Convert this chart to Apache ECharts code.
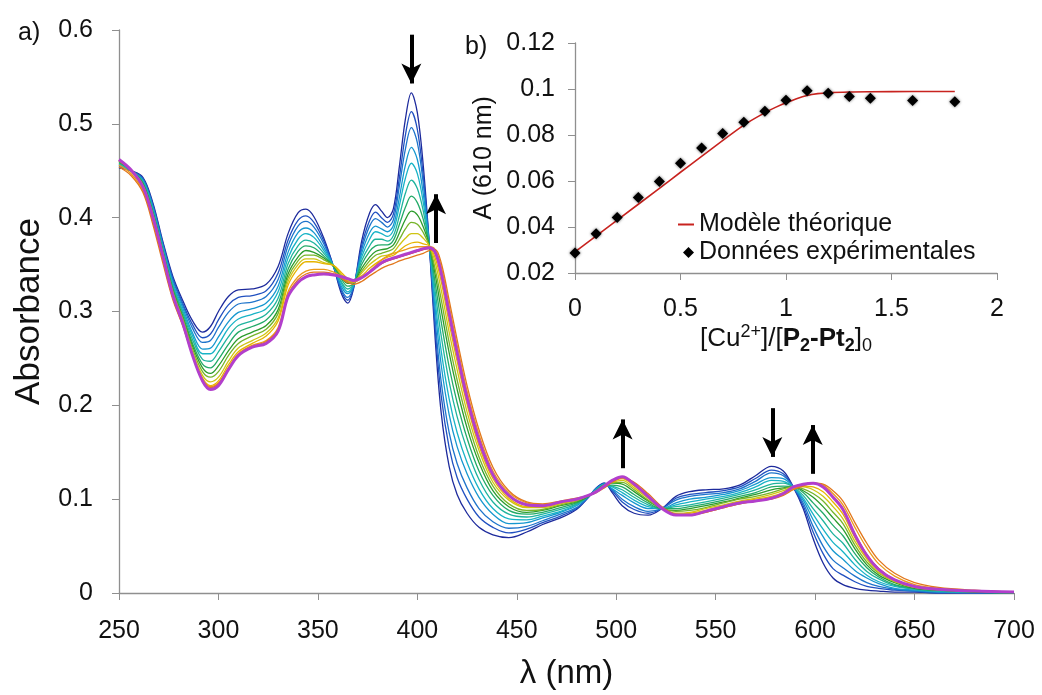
<!DOCTYPE html>
<html>
<head>
<meta charset="utf-8">
<script src="https://cdn.jsdelivr.net/npm/echarts@6.0.0/dist/echarts.min.js"></script>
<style>html,body{margin:0;padding:0;background:#fff;}#chart{width:1042px;height:695px;}</style>
</head>
<body>
<div id="chart"></div>
<script>
// ---- Data ----
const wavelengths = [250,256,262,267,272,277,282,287,292,296,300,305,310,317,324,330,335,340,344,348,353,358,362,365,368,372,376,379,382,385,388,391,394,397,400,403,406,409,412,416,420,425,431,438,446,455,463,472,480,486,490,494,498,503,509,516,523,530,537,545,554,562,570,578,584,589,594,599,604,609,614,620,626,632,640,650,662,680,700];

const absEq00 = [.453,.450,.443,.416,.375,.338,.312,.290,.278,.284,.300,.316,.323,.324,.329,.348,.383,.405,.409,.401,.378,.347,.318,.309,.325,.375,.405,.414,.407,.400,.410,.455,.505,.533,.512,.455,.372,.270,.192,.135,.105,.085,.070,.062,.059,.065,.073,.080,.089,.102,.112,.117,.107,.093,.085,.083,.090,.103,.108,.110,.111,.115,.125,.135,.130,.113,.090,.058,.032,.016,.009,.005,.003,.002,.001,.001,0,0,0];
const absEq01 = [.454,.450,.442,.414,.373,.336,.309,.286,.272,.276,.291,.307,.315,.317,.322,.341,.376,.397,.402,.395,.375,.347,.321,.312,.326,.370,.397,.406,.400,.395,.404,.443,.488,.513,.494,.444,.372,.281,.210,.155,.123,.100,.081,.070,.064,.068,.075,.082,.090,.102,.112,.117,.109,.097,.089,.085,.090,.101,.105,.107,.109,.113,.122,.131,.127,.113,.093,.065,.042,.026,.019,.012,.007,.005,.003,.002,0,0,0];
const absEq02 = [.455,.450,.441,.413,.372,.334,.307,.282,.267,.269,.283,.299,.308,.310,.316,.334,.370,.391,.396,.390,.372,.347,.323,.315,.327,.366,.391,.399,.395,.390,.398,.434,.473,.496,.480,.436,.372,.290,.225,.171,.138,.112,.090,.076,.069,.071,.077,.084,.091,.102,.111,.116,.110,.100,.092,.087,.090,.099,.103,.105,.107,.111,.119,.128,.125,.113,.096,.071,.050,.035,.027,.018,.011,.007,.004,.002,.001,0,0];
const absEq03 = [.456,.450,.440,.411,.370,.331,.304,.277,.260,.261,.273,.289,.299,.303,.309,.327,.363,.384,.389,.384,.368,.348,.326,.319,.328,.362,.384,.391,.388,.385,.392,.422,.456,.475,.462,.425,.371,.302,.243,.190,.156,.127,.102,.084,.074,.075,.080,.086,.093,.103,.111,.116,.111,.104,.096,.090,.090,.096,.100,.102,.105,.109,.116,.123,.122,.113,.099,.078,.060,.045,.036,.024,.016,.010,.005,.003,.001,.001,0];
const absEq04 = [.457,.450,.439,.409,.368,.329,.301,.274,.255,.255,.265,.282,.292,.297,.303,.321,.357,.377,.383,.379,.365,.348,.329,.321,.329,.358,.377,.385,.383,.380,.387,.413,.442,.458,.447,.416,.371,.311,.258,.207,.171,.139,.111,.090,.079,.078,.082,.087,.094,.103,.110,.116,.113,.107,.099,.092,.090,.094,.097,.100,.103,.107,.113,.120,.119,.113,.101,.084,.068,.054,.044,.030,.019,.012,.007,.004,.002,.001,0];
const absEq05 = [.458,.451,.438,.408,.367,.327,.299,.270,.249,.247,.257,.273,.285,.290,.297,.314,.351,.370,.376,.373,.362,.348,.331,.324,.329,.354,.370,.377,.377,.375,.381,.402,.426,.440,.431,.407,.371,.321,.274,.225,.188,.153,.121,.097,.084,.081,.084,.089,.095,.103,.110,.115,.114,.110,.102,.094,.090,.092,.094,.097,.101,.105,.110,.116,.117,.113,.104,.090,.077,.063,.053,.036,.023,.015,.008,.004,.002,.001,0];
const absEq06 = [.459,.451,.437,.406,.365,.325,.296,.266,.244,.240,.249,.265,.278,.284,.291,.308,.345,.364,.370,.368,.359,.348,.334,.327,.330,.350,.364,.370,.371,.371,.376,.393,.411,.423,.416,.398,.371,.330,.289,.241,.203,.165,.130,.104,.088,.084,.086,.091,.096,.103,.109,.115,.115,.113,.105,.096,.090,.090,.092,.095,.099,.103,.107,.113,.114,.113,.107,.096,.085,.072,.061,.042,.027,.017,.009,.005,.003,.001,0];
const absEq07 = [.460,.451,.436,.405,.364,.323,.294,.263,.240,.234,.242,.258,.271,.278,.285,.302,.340,.358,.365,.363,.357,.348,.336,.330,.331,.346,.358,.364,.366,.367,.371,.384,.398,.407,.403,.390,.371,.339,.302,.256,.217,.176,.139,.109,.092,.086,.088,.093,.097,.103,.109,.115,.117,.116,.108,.098,.090,.088,.090,.093,.097,.101,.105,.110,.112,.113,.109,.102,.092,.080,.068,.047,.030,.019,.011,.005,.003,.001,0];
const absEq08 = [.460,.451,.435,.404,.363,.322,.293,.260,.236,.230,.236,.253,.266,.274,.281,.298,.336,.354,.360,.360,.355,.349,.337,.332,.331,.343,.354,.360,.362,.364,.367,.377,.388,.395,.393,.384,.370,.345,.313,.267,.227,.185,.145,.114,.095,.088,.089,.094,.098,.104,.109,.115,.118,.118,.110,.099,.090,.087,.088,.091,.096,.100,.103,.107,.111,.113,.111,.106,.098,.086,.074,.051,.033,.021,.012,.006,.003,.002,.001];
const absEq09 = [.461,.451,.434,.403,.362,.320,.291,.257,.232,.225,.230,.247,.261,.269,.277,.293,.332,.350,.356,.356,.352,.349,.339,.334,.332,.341,.350,.355,.359,.360,.363,.371,.378,.383,.383,.378,.370,.352,.323,.278,.238,.193,.152,.118,.099,.091,.091,.095,.099,.104,.108,.114,.118,.120,.112,.101,.090,.085,.086,.090,.094,.098,.101,.105,.109,.113,.113,.110,.103,.092,.079,.055,.036,.022,.012,.006,.004,.002,.001];
const absEq10 = [.461,.451,.434,.402,.361,.319,.289,.255,.229,.221,.226,.243,.257,.266,.274,.290,.328,.346,.353,.353,.351,.349,.341,.335,.333,.338,.346,.351,.355,.358,.360,.365,.370,.373,.374,.372,.370,.357,.332,.288,.247,.201,.157,.122,.101,.092,.092,.096,.099,.104,.108,.114,.119,.122,.114,.102,.090,.084,.085,.088,.093,.097,.100,.103,.107,.113,.114,.113,.108,.097,.084,.059,.038,.024,.013,.007,.004,.002,.001];
const absEq12 = [.456,.447,.429,.396,.355,.315,.286,.254,.228,.220,.224,.240,.255,.264,.269,.283,.321,.337,.343,.345,.345,.342,.337,.333,.331,.336,.343,.349,.355,.359,.362,.364,.366,.368,.369,.369,.369,.366,.348,.306,.264,.215,.169,.130,.107,.096,.094,.097,.100,.104,.108,.113,.119,.123,.117,.104,.091,.083,.083,.086,.091,.095,.098,.101,.105,.111,.115,.117,.115,.106,.094,.070,.048,.031,.018,.009,.005,.002,.001];
const absEq14 = [.454,.445,.427,.393,.352,.313,.285,.253,.227,.219,.223,.239,.254,.263,.268,.281,.318,.334,.340,.342,.342,.340,.335,.331,.329,.332,.338,.342,.346,.349,.351,.354,.356,.358,.360,.362,.365,.366,.352,.312,.270,.221,.174,.134,.109,.097,.095,.098,.101,.104,.107,.112,.118,.123,.118,.106,.092,.084,.083,.086,.091,.095,.098,.100,.104,.110,.114,.117,.116,.109,.098,.075,.053,.035,.021,.011,.006,.003,.001];
const absEq16 = [.461,.450,.432,.400,.359,.318,.288,.253,.226,.217,.221,.238,.253,.262,.266,.279,.316,.331,.337,.339,.340,.339,.337,.335,.333,.336,.342,.347,.351,.354,.356,.358,.360,.362,.364,.366,.367,.362,.340,.297,.255,.207,.162,.126,.104,.094,.093,.097,.100,.104,.108,.114,.120,.124,.117,.103,.090,.083,.083,.087,.092,.096,.098,.101,.106,.113,.116,.117,.113,.103,.090,.063,.041,.026,.014,.007,.004,.002,.001];
const absEq18 = [.462,.451,.433,.401,.360,.318,.288,.253,.226,.217,.221,.238,.253,.262,.266,.279,.316,.331,.337,.339,.340,.339,.337,.335,.333,.336,.342,.347,.352,.355,.357,.359,.361,.363,.365,.367,.368,.363,.341,.298,.256,.208,.163,.126,.104,.094,.093,.097,.100,.104,.108,.114,.120,.124,.116,.103,.090,.083,.083,.087,.092,.096,.098,.101,.106,.113,.116,.117,.113,.102,.089,.062,.040,.025,.014,.007,.004,.002,.001];

const spectraColors = ['#1d2a9c','#2050c0','#1e74cb','#1697cf','#18b3c6','#1fb39e','#23aa68','#2c9c2c','#76b42a','#cfc414','#e6b400','#ec9a1a','#e2771c','#e0381e','#b23fcc'];

// inset b): titration at 610 nm
const ratioExp = [0,0.1,0.2,0.3,0.4,0.5,0.6,0.7,0.8,0.9,1.0,1.1,1.2,1.3,1.4,1.6,1.8];
const abs610Exp = [0.0287,0.0371,0.0441,0.0528,0.0598,0.0677,0.0743,0.0806,0.0855,0.0903,0.0951,0.0992,0.0982,0.0967,0.0960,0.0950,0.0945];
const ratioModel = [0,0.2,0.4,0.5,0.6,0.8,0.9,0.95,1.0,1.05,1.1,1.15,1.2,1.3,1.4,1.6,1.8];
const abs610Model = [0.0292,0.0430,0.0568,0.0638,0.0707,0.0843,0.0897,0.0920,0.0940,0.0958,0.0972,0.0980,0.0984,0.0987,0.0988,0.0989,0.0989];

// arrows: [wavelength, A start, A end]
const arrows = [[397,0.595,0.543],[409.4,0.373,0.425],[503.2,0.133,0.185],[578.5,0.197,0.145],[598.8,0.127,0.179]];

const mainXTicks = ['250','300','350','400','450','500','550','600','650','700'];
const mainYTicks = ['0','0.1','0.2','0.3','0.4','0.5','0.6'];
const insetXTicks = ['0','0.5','1','1.5','2'];
const insetYTicks = ['0.02','0.04','0.06','0.08','0.1','0.12'];

// ---- Build chart ----
const FONT = '"Liberation Sans", Arial, Helvetica, sans-serif';
const spectra = [absEq00,absEq01,absEq02,absEq03,absEq04,absEq05,absEq06,absEq07,absEq08,absEq09,absEq10,absEq12,absEq14,absEq16,absEq18];
const zip = (xs, ys) => xs.map((x, i) => [x, ys[i]]);
const axisGray = '#8f8f8f';
const fmt = v => String(+v.toFixed(2));
const pick = (labels) => (v, i) => labels[i] !== undefined ? labels[i] : fmt(v);

const series = spectra.map((arr, i) => ({
  type: 'line',
  xAxisIndex: 0, yAxisIndex: 0,
  data: zip(wavelengths, arr),
  showSymbol: false,
  smooth: 0.35,
  silent: true,
  z: 2 + i,
  lineStyle: { color: spectraColors[i], width: i === spectra.length - 1 ? 3 : 1.3 },
  itemStyle: { color: spectraColors[i] }
}));

series[series.length - 1].markLine = {
  silent: true,
  symbol: ['none', 'arrow'],
  symbolSize: [15, 20],
  label: { show: false },
  lineStyle: { color: '#000', width: 4, type: 'solid' },
  data: arrows.map(a => [{ coord: [a[0], a[1]] }, { coord: [a[0], a[2]] }])
};

series.push({
  name: 'Modèle théorique',
  type: 'line',
  xAxisIndex: 1, yAxisIndex: 1,
  data: zip(ratioModel, abs610Model),
  showSymbol: false,
  symbol: 'none',
  smooth: 0.3,
  lineStyle: { color: '#c8231f', width: 1.6 },
  itemStyle: { color: '#c8231f' },
  z: 5
});
series.push({
  name: 'Données expérimentales',
  type: 'scatter',
  xAxisIndex: 1, yAxisIndex: 1,
  data: zip(ratioExp, abs610Exp),
  symbol: 'diamond',
  symbolSize: 11,
  itemStyle: { color: '#000', opacity: 1, shadowBlur: 3, shadowColor: 'rgba(0,0,0,0.6)' },
  z: 6
});

const legendText = { fontSize: 25, color: '#111', fontFamily: FONT };

const option = {
  backgroundColor: '#fff',
  animation: false,
  textStyle: { fontFamily: FONT, color: '#111' },
  title: [
    { text: 'a)', left: 13, top: 16, textStyle: { fontSize: 25, fontWeight: 'normal', color: '#111', fontFamily: FONT } },
    { text: 'b)', left: 460, top: 30, textStyle: { fontSize: 25, fontWeight: 'normal', color: '#111', fontFamily: FONT } }
  ],
  legend: [
    {
      data: [{ name: 'Modèle théorique', icon: 'rect' }],
      left: 673, top: 207,
      itemWidth: 16, itemHeight: 2,
      textStyle: legendText, selectedMode: false
    },
    {
      data: [{ name: 'Données expérimentales', icon: 'diamond' }],
      left: 678, top: 235,
      itemWidth: 11, itemHeight: 11,
      textStyle: legendText, selectedMode: false
    }
  ],
  grid: [
    { left: 119, top: 30, width: 895, height: 569, containLabel: false },
    { left: 575, top: 43, width: 422, height: 230, containLabel: false }
  ],
  xAxis: [
    {
      gridIndex: 0, type: 'value', min: 250, max: 700, interval: 50,
      axisLine: { show: true, lineStyle: { color: axisGray, width: 1.3 } },
      axisTick: { show: true, inside: false, length: 7, lineStyle: { color: axisGray } },
      splitLine: { show: false },
      axisLabel: { fontSize: 25, color: '#111', margin: 26, fontFamily: FONT, formatter: pick(mainXTicks) },
      name: 'λ (nm)', nameLocation: 'middle', nameGap: 64,
      nameTextStyle: { fontSize: 33, color: '#111', fontFamily: FONT }
    },
    {
      gridIndex: 1, type: 'value', min: 0, max: 2, interval: 0.5,
      axisLine: { show: true, lineStyle: { color: axisGray, width: 1.3 } },
      axisTick: { show: true, inside: false, length: 7, lineStyle: { color: axisGray } },
      splitLine: { show: false },
      axisLabel: { fontSize: 25, color: '#111', margin: 24, fontFamily: FONT, formatter: pick(insetXTicks) },
      name: '{n|[Cu}{sup|2+}{n|]/[}{b|P}{bsub|2}{b|-Pt}{bsub|2}{n|]}{sub|0}',
      nameLocation: 'middle', nameGap: 50,
      nameTextStyle: {
        fontFamily: FONT, color: '#111',
        rich: {
          n: { fontSize: 26, lineHeight: 32, fontFamily: FONT, color: '#111' },
          b: { fontSize: 26, lineHeight: 32, fontWeight: 'bold', fontFamily: FONT, color: '#111' },
          sup: { fontSize: 18, lineHeight: 17, verticalAlign: 'top', fontFamily: FONT, color: '#111' },
          sub: { fontSize: 18, lineHeight: 17, verticalAlign: 'bottom', fontFamily: FONT, color: '#111' },
          bsub: { fontSize: 18, lineHeight: 17, verticalAlign: 'bottom', fontWeight: 'bold', fontFamily: FONT, color: '#111' }
        }
      }
    }
  ],
  yAxis: [
    {
      gridIndex: 0, type: 'value', min: 0, max: 0.6, interval: 0.1,
      axisLine: { show: true, lineStyle: { color: axisGray, width: 1.3 } },
      axisTick: { show: true, inside: false, length: 7, lineStyle: { color: axisGray } },
      splitLine: { show: false },
      axisLabel: { fontSize: 25, color: '#111', margin: 26, fontFamily: FONT, formatter: pick(mainYTicks) },
      name: 'Absorbance', nameLocation: 'middle', nameGap: 72, nameRotate: 90,
      nameTextStyle: { fontSize: 35, color: '#111', fontFamily: FONT }
    },
    {
      gridIndex: 1, type: 'value', min: 0.02, max: 0.12, interval: 0.02,
      axisLine: { show: true, lineStyle: { color: axisGray, width: 1.3 } },
      axisTick: { show: true, inside: false, length: 7, lineStyle: { color: axisGray } },
      splitLine: { show: false },
      axisLabel: { fontSize: 25, color: '#111', margin: 20, fontFamily: FONT, formatter: pick(insetYTicks) },
      name: 'A (610 nm)', nameLocation: 'middle', nameGap: 78, nameRotate: 90,
      nameTextStyle: { fontSize: 25, color: '#111', fontFamily: FONT }
    }
  ],
  series: series
};

const chart = echarts.init(document.getElementById('chart'), null, { renderer: 'canvas', width: 1042, height: 695 });
chart.setOption(option);
</script>
</body>
</html>
